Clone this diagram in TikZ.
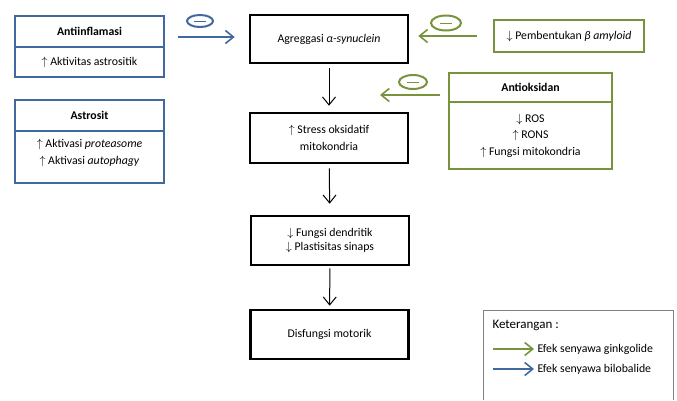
\documentclass[tikz,border=0pt]{standalone}
\usepackage{fontspec}
\setmainfont{Carlito}
\usetikzlibrary{arrows.meta,shapes.geometric}
\definecolor{ginkgo}{RGB}{119,147,60}
\definecolor{bilo}{RGB}{66,104,160}
\newcommand{\naik}{$\uparrow$}
\newcommand{\turun}{$\downarrow$}
\begin{document}
\begin{tikzpicture}
[x=1pt,y=-1pt,font=\fontsize{11.8}{16.5}\selectfont,
  mainbox/.style={shape=rectangle,draw=black,line width=2.6pt,minimum width=158pt,align=center,inner sep=2pt},%
  bluebox/.style={shape=rectangle,draw=bilo,line width=2.2pt,minimum width=149pt,align=center,inner sep=2pt},%
  greenbox/.style={shape=rectangle,draw=ginkgo,line width=2.2pt,align=center,inner sep=2pt},%
  flowline/.style={-{Straight Barb[length=8pt,width=13pt]},line width=1pt},%
  effectline/.style={-{Straight Barb[length=8pt,width=13pt]},line width=1.6pt},%
  inhibit/.style={shape=ellipse,draw,line width=2pt,inner sep=0pt,
    path picture={\draw[line width=1pt] ([xshift=-6pt]path picture bounding box.center)
      -- ([xshift=6pt]path picture bounding box.center);}}]
\useasboundingbox (0,0) rectangle (677,400);
%% main chain
\foreach \nodename/\x/\y/\h/\content in {
  agg/329/39/48/{Agreggasi \textit{α-synuclein}},
  stress/329/138/50/{\naik\ Stress oksidatif\\ mitokondria},
  fungsi/330/240.5/49/{\turun\ Fungsi dendritik\\[-2pt] \turun\ Plastisitas sinaps},
  disfungsi/329.5/334.5/49/{Disfungsi motorik}} {
  \node (\nodename) at (\x,\y) [mainbox,minimum height=\h pt] {\content};
}
\path
\foreach \startnode/\endnode/\sa/\sb in {agg/stress/4/6, stress/fungsi/4/11, fungsi/disfungsi/2/3} {
  (\startnode) edge[flowline,shorten <=\sa pt,shorten >=\sb pt] (\endnode)
};
%% bilobalide boxes
\node (antiHead) at (89.5,31.5) [bluebox,minimum height=31pt] {\bfseries Antiinflamasi};
\node (antiBody) at (89.5,62) [bluebox,minimum height=30pt] {\naik\ Aktivitas astrositik};
\node (astroHead) at (89.5,115.5) [bluebox,minimum height=31pt] {\bfseries Astrosit};
\node (astroBody) at (89.5,157) [bluebox,minimum height=52pt]
  {\naik\ Aktivasi \textit{proteasome}\\[1pt] \naik\ Aktivasi \textit{autophagy}\\[-6pt] ~};
%% ginkgolide boxes
\node (pemb) at (569,36) [greenbox,minimum width=150pt,minimum height=32pt]
  {\turun\ Pembentukan \textit{β amyloid}};
\node (oksHead) at (530.5,87.5) [greenbox,minimum width=163pt,minimum height=29pt] {\bfseries Antioksidan};
\node (oksBody) at (530.5,135.5) [greenbox,minimum width=163pt,minimum height=67pt]
  {\turun\ ROS\\ \naik\ RONS\\ \naik\ Fungsi mitokondria};
%% effects
\coordinate (bluStart) at (178,37);
\coordinate (oksEnd) at (380,95);
\draw[effectline,bilo,shorten >=14pt] (bluStart) -- (bluStart -| agg.west);
\draw[effectline,ginkgo,shorten <=16pt,shorten >=9pt] (pemb.west) -- (pemb.west -| agg.east);
\draw[effectline,ginkgo,shorten <=8pt] (oksEnd -| oksHead.west) -- (oksEnd);
\node (minBlue) at (200,21) [inhibit,draw=bilo,minimum width=26pt,minimum height=12pt] {};
\node (minGreenA) at (446,23) [inhibit,draw=ginkgo,minimum width=30pt,minimum height=15pt] {};
\node (minGreenB) at (413,82) [inhibit,draw=ginkgo,minimum width=28pt,minimum height=14pt] {};
%% legend
\draw[draw=black!50,line width=0.8pt] (483,400) |- (673,310) -- (673,400);
\node (key) at (489,325) [anchor=west,font=\fontsize{13}{15}\selectfont] {Keterangan :};
\coordinate (keyG) at (493,349);
\coordinate (keyB) at (493,369);
\node (keyGText) at (534,349) [anchor=west] {Efek senyawa ginkgolide};
\node (keyBText) at (534,369) [anchor=west] {Efek senyawa bilobalide};
\draw[effectline,ginkgo] (keyG) -- (keyGText.west);
\draw[effectline,bilo] (keyB) -- (keyBText.west);
\end{tikzpicture}
\end{document}
